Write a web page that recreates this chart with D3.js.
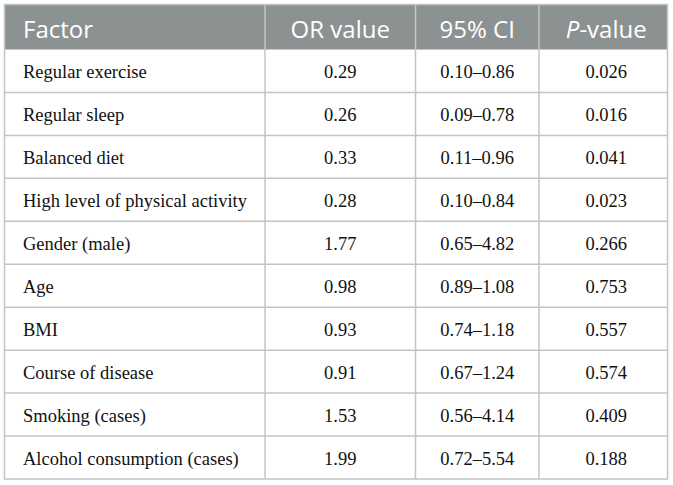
<!DOCTYPE html>
<html>
<head>
<meta charset="utf-8">
<script src="https://d3js.org/d3.v7.min.js"></script>
<style>
  body { margin: 0; background: #fff; }
  svg { display: block; }
</style>
</head>
<body>
<svg width="673" height="485"></svg>
<script>
// table content
var headers = ["Factor", "OR value", "95% CI", "P-value"];
var factors = ["Regular exercise", "Regular sleep", "Balanced diet", "High level of physical activity",
  "Gender (male)", "Age", "BMI", "Course of disease", "Smoking (cases)", "Alcohol consumption (cases)"];
var orValues = ["0.29", "0.26", "0.33", "0.28", "1.77", "0.98", "0.93", "0.91", "1.53", "1.99"];
var ciValues = ["0.10–0.86", "0.09–0.78", "0.11–0.96", "0.10–0.84", "0.65–4.82", "0.89–1.08",
  "0.74–1.18", "0.67–1.24", "0.56–4.14", "0.72–5.54"];
var pValues = ["0.026", "0.016", "0.041", "0.023", "0.266", "0.753", "0.557", "0.574", "0.409", "0.188"];

var svg = d3.select("svg");
// note: "top" is taken by window.top, so tTop
var tLeft = 4.5, tRight = 667.5, tTop = 4.5, headH = 45, tBottom = 479;
var colEdges = [tLeft, 265, 415.5, 539, tRight];
var colShift = [0, 0, 0, 3];

var yScale = d3.scaleBand().domain(d3.range(factors.length))
  .range([tTop + headH, tBottom]).padding(0);

var rows = factors.map(function(f, i) { return [f, orValues[i], ciValues[i], pValues[i]]; });

function colX(j) {
  return j == 0 ? colEdges[0] + 18.5 : (colEdges[j] + colEdges[j + 1]) / 2 + colShift[j];
}

// header
svg.append("rect").attr("x", tLeft).attr("y", tTop)
  .attr("width", tRight - tLeft).attr("height", headH).attr("fill", "#8c9292");

var g = svg.append("g");
headers.forEach(function(h, j) {
  var t = g.append("text")
    .attr("x", colX(j))
    .attr("y", tTop + headH / 2 + 1)
    .attr("text-anchor", j == 0 ? "start" : "middle")
    .attr("dominant-baseline", "central")
    .attr("font-family", "'Open Sans', sans-serif")
    .attr("font-size", 24)
    .attr("fill", "#fff");
  if (h == "P-value") {
    t.append("tspan").attr("font-style", "italic").text("P");
    t.append("tspan").text("-value");
  } else {
    t.text(h);
  }
});

// body cells
rows.forEach(function(r, i) {
  r.forEach(function(v, j) {
    g.append("text")
      .attr("x", colX(j))
      .attr("y", yScale(i) + yScale.bandwidth() / 2 + 1)
      .attr("text-anchor", j == 0 ? "start" : "middle")
      .attr("dominant-baseline", "central")
      .attr("font-family", "'Liberation Serif', 'Times New Roman', serif")
      .attr("font-size", 18.5)
      .attr("fill", "#111")
      .text(v);
  });
});

// grid lines
var lines = svg.append("g").attr("stroke", "#c4c4c4").attr("stroke-width", 1.5).attr("fill", "none");
d3.range(1, factors.length).forEach(function(i) {
  lines.append("line").attr("x1", tLeft).attr("x2", tRight)
    .attr("y1", yScale(i)).attr("y2", yScale(i));
});
colEdges.slice(1, -1).forEach(function(x) {
  lines.append("line").attr("x1", x).attr("x2", x)
    .attr("y1", tTop).attr("y2", tBottom);
});
lines.append("rect").attr("x", tLeft).attr("y", tTop)
  .attr("width", tRight - tLeft).attr("height", tBottom - tTop);
</script>
</body>
</html>
